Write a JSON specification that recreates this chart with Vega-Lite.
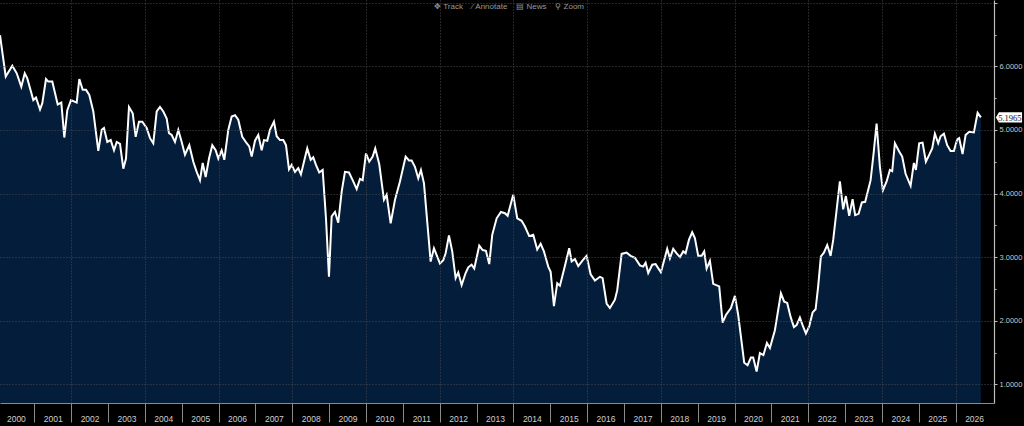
{
  "$schema": "https://vega.github.io/schema/vega-lite/v6.json",
  "description": "Monthly yield history 2000-2026, dark terminal style area chart.",
  "width": 994,
  "height": 403,
  "autosize": {"type": "none"},
  "padding": {"left": 0, "top": 0, "right": 30, "bottom": 23},
  "background": "#000000",
  "title": {
    "text": "✥\u00a0Track\u00a0\u00a0\u00a0\u00a0⁄\u00a0Annotate\u00a0\u00a0\u00a0\u00a0▤\u00a0News\u00a0\u00a0\u00a0\u00a0⚲\u00a0Zoom",
    "orient": "top",
    "anchor": "middle",
    "offset": -11,
    "font": "Liberation Sans",
    "fontSize": 8,
    "fontWeight": "normal",
    "color": "#9a9a9a",
    "dx": 12
  },
  "data": {
    "values": [
      {"t": 2000.069, "v": 6.49}, {"t": 2000.224, "v": 5.84}, {"t": 2000.403, "v": 6.01}, {"t": 2000.523, "v": 5.89},
      {"t": 2000.647, "v": 5.68}, {"t": 2000.740, "v": 5.89}, {"t": 2000.810, "v": 5.81}, {"t": 2000.973, "v": 5.47},
      {"t": 2001.046, "v": 5.51}, {"t": 2001.155, "v": 5.32}, {"t": 2001.217, "v": 5.42}, {"t": 2001.317, "v": 5.80},
      {"t": 2001.380, "v": 5.76}, {"t": 2001.488, "v": 5.76}, {"t": 2001.635, "v": 5.40}, {"t": 2001.733, "v": 5.43},
      {"t": 2001.814, "v": 4.88}, {"t": 2001.895, "v": 5.31}, {"t": 2001.996, "v": 5.47}, {"t": 2002.150, "v": 5.43},
      {"t": 2002.221, "v": 5.80}, {"t": 2002.313, "v": 5.63}, {"t": 2002.403, "v": 5.63}, {"t": 2002.492, "v": 5.55},
      {"t": 2002.601, "v": 5.29}, {"t": 2002.736, "v": 4.67}, {"t": 2002.829, "v": 5.00}, {"t": 2002.891, "v": 5.03},
      {"t": 2002.980, "v": 4.81}, {"t": 2003.073, "v": 4.84}, {"t": 2003.162, "v": 4.68}, {"t": 2003.236, "v": 4.81},
      {"t": 2003.325, "v": 4.78}, {"t": 2003.415, "v": 4.39}, {"t": 2003.488, "v": 4.55}, {"t": 2003.569, "v": 5.36},
      {"t": 2003.670, "v": 5.26}, {"t": 2003.751, "v": 4.89}, {"t": 2003.840, "v": 5.13}, {"t": 2003.930, "v": 5.13},
      {"t": 2004.049, "v": 5.03}, {"t": 2004.139, "v": 4.87}, {"t": 2004.228, "v": 4.79}, {"t": 2004.321, "v": 5.29},
      {"t": 2004.410, "v": 5.36}, {"t": 2004.500, "v": 5.29}, {"t": 2004.592, "v": 5.18}, {"t": 2004.654, "v": 4.95},
      {"t": 2004.728, "v": 4.92}, {"t": 2004.817, "v": 4.81}, {"t": 2004.907, "v": 5.00}, {"t": 2004.999, "v": 4.81},
      {"t": 2005.088, "v": 4.61}, {"t": 2005.205, "v": 4.76}, {"t": 2005.314, "v": 4.50}, {"t": 2005.406, "v": 4.34},
      {"t": 2005.495, "v": 4.21}, {"t": 2005.569, "v": 4.48}, {"t": 2005.650, "v": 4.26}, {"t": 2005.740, "v": 4.55},
      {"t": 2005.829, "v": 4.76}, {"t": 2005.921, "v": 4.68}, {"t": 2005.992, "v": 4.55}, {"t": 2006.084, "v": 4.68},
      {"t": 2006.155, "v": 4.53}, {"t": 2006.263, "v": 5.00}, {"t": 2006.355, "v": 5.21}, {"t": 2006.445, "v": 5.23},
      {"t": 2006.534, "v": 5.16}, {"t": 2006.643, "v": 4.89}, {"t": 2006.762, "v": 4.79}, {"t": 2006.833, "v": 4.74},
      {"t": 2006.898, "v": 4.58}, {"t": 2006.988, "v": 4.83}, {"t": 2007.077, "v": 4.92}, {"t": 2007.169, "v": 4.68},
      {"t": 2007.232, "v": 4.84}, {"t": 2007.321, "v": 4.83}, {"t": 2007.394, "v": 5.00}, {"t": 2007.503, "v": 5.13},
      {"t": 2007.576, "v": 4.90}, {"t": 2007.666, "v": 4.84}, {"t": 2007.755, "v": 4.84}, {"t": 2007.829, "v": 4.76},
      {"t": 2007.910, "v": 4.38}, {"t": 2007.983, "v": 4.45}, {"t": 2008.073, "v": 4.34}, {"t": 2008.162, "v": 4.40},
      {"t": 2008.235, "v": 4.30}, {"t": 2008.317, "v": 4.50}, {"t": 2008.406, "v": 4.71}, {"t": 2008.499, "v": 4.53},
      {"t": 2008.569, "v": 4.57}, {"t": 2008.642, "v": 4.45}, {"t": 2008.732, "v": 4.33}, {"t": 2008.824, "v": 4.37},
      {"t": 2008.914, "v": 3.61}, {"t": 2008.995, "v": 2.69}, {"t": 2009.068, "v": 3.64}, {"t": 2009.158, "v": 3.71},
      {"t": 2009.247, "v": 3.54}, {"t": 2009.340, "v": 4.03}, {"t": 2009.429, "v": 4.34}, {"t": 2009.538, "v": 4.33},
      {"t": 2009.638, "v": 4.21}, {"t": 2009.747, "v": 4.07}, {"t": 2009.836, "v": 4.23}, {"t": 2009.909, "v": 4.21},
      {"t": 2009.999, "v": 4.63}, {"t": 2010.088, "v": 4.50}, {"t": 2010.181, "v": 4.58}, {"t": 2010.251, "v": 4.71},
      {"t": 2010.360, "v": 4.46}, {"t": 2010.487, "v": 3.90}, {"t": 2010.560, "v": 3.98}, {"t": 2010.669, "v": 3.53},
      {"t": 2010.786, "v": 3.90}, {"t": 2010.921, "v": 4.19}, {"t": 2011.076, "v": 4.58}, {"t": 2011.166, "v": 4.52},
      {"t": 2011.239, "v": 4.52}, {"t": 2011.328, "v": 4.42}, {"t": 2011.418, "v": 4.24}, {"t": 2011.491, "v": 4.37},
      {"t": 2011.573, "v": 4.16}, {"t": 2011.673, "v": 3.48}, {"t": 2011.754, "v": 2.93}, {"t": 2011.844, "v": 3.14},
      {"t": 2011.917, "v": 3.03}, {"t": 2012.006, "v": 2.90}, {"t": 2012.096, "v": 2.95}, {"t": 2012.161, "v": 3.06},
      {"t": 2012.251, "v": 3.34}, {"t": 2012.340, "v": 3.09}, {"t": 2012.432, "v": 2.67}, {"t": 2012.503, "v": 2.76},
      {"t": 2012.595, "v": 2.56}, {"t": 2012.703, "v": 2.75}, {"t": 2012.774, "v": 2.84}, {"t": 2012.866, "v": 2.88},
      {"t": 2012.937, "v": 2.82}, {"t": 2013.073, "v": 3.18}, {"t": 2013.165, "v": 3.11}, {"t": 2013.254, "v": 3.10},
      {"t": 2013.344, "v": 2.89}, {"t": 2013.425, "v": 3.35}, {"t": 2013.545, "v": 3.61}, {"t": 2013.661, "v": 3.71},
      {"t": 2013.770, "v": 3.69}, {"t": 2013.843, "v": 3.65}, {"t": 2013.995, "v": 3.98}, {"t": 2014.104, "v": 3.61},
      {"t": 2014.223, "v": 3.57}, {"t": 2014.312, "v": 3.48}, {"t": 2014.429, "v": 3.33}, {"t": 2014.538, "v": 3.35},
      {"t": 2014.646, "v": 3.12}, {"t": 2014.738, "v": 3.21}, {"t": 2014.828, "v": 3.09}, {"t": 2014.945, "v": 2.85},
      {"t": 2015.010, "v": 2.77}, {"t": 2015.099, "v": 2.23}, {"t": 2015.189, "v": 2.59}, {"t": 2015.262, "v": 2.55},
      {"t": 2015.371, "v": 2.80}, {"t": 2015.514, "v": 3.14}, {"t": 2015.580, "v": 2.93}, {"t": 2015.669, "v": 2.97},
      {"t": 2015.759, "v": 2.86}, {"t": 2015.878, "v": 2.95}, {"t": 2015.986, "v": 3.02}, {"t": 2016.095, "v": 2.73},
      {"t": 2016.212, "v": 2.63}, {"t": 2016.347, "v": 2.69}, {"t": 2016.420, "v": 2.67}, {"t": 2016.529, "v": 2.27},
      {"t": 2016.618, "v": 2.20}, {"t": 2016.754, "v": 2.33}, {"t": 2016.817, "v": 2.48}, {"t": 2016.936, "v": 3.05},
      {"t": 2017.072, "v": 3.07}, {"t": 2017.180, "v": 3.02}, {"t": 2017.297, "v": 2.99}, {"t": 2017.433, "v": 2.87},
      {"t": 2017.522, "v": 2.85}, {"t": 2017.587, "v": 2.91}, {"t": 2017.658, "v": 2.75}, {"t": 2017.766, "v": 2.88},
      {"t": 2017.858, "v": 2.89}, {"t": 2018.002, "v": 2.76}, {"t": 2018.173, "v": 3.13}, {"t": 2018.246, "v": 2.98},
      {"t": 2018.336, "v": 3.13}, {"t": 2018.428, "v": 3.06}, {"t": 2018.518, "v": 3.00}, {"t": 2018.607, "v": 3.09},
      {"t": 2018.672, "v": 3.06}, {"t": 2018.762, "v": 3.27}, {"t": 2018.851, "v": 3.39}, {"t": 2018.924, "v": 3.30},
      {"t": 2019.014, "v": 3.02}, {"t": 2019.106, "v": 3.02}, {"t": 2019.177, "v": 3.09}, {"t": 2019.242, "v": 2.82},
      {"t": 2019.332, "v": 2.94}, {"t": 2019.421, "v": 2.58}, {"t": 2019.584, "v": 2.54}, {"t": 2019.676, "v": 1.97},
      {"t": 2019.766, "v": 2.09}, {"t": 2019.901, "v": 2.20}, {"t": 2020.010, "v": 2.39}, {"t": 2020.099, "v": 2.09},
      {"t": 2020.262, "v": 1.34}, {"t": 2020.354, "v": 1.30}, {"t": 2020.444, "v": 1.42}, {"t": 2020.506, "v": 1.42},
      {"t": 2020.599, "v": 1.20}, {"t": 2020.688, "v": 1.49}, {"t": 2020.783, "v": 1.46}, {"t": 2020.879, "v": 1.65},
      {"t": 2020.960, "v": 1.57}, {"t": 2021.022, "v": 1.70}, {"t": 2021.095, "v": 1.85}, {"t": 2021.258, "v": 2.43},
      {"t": 2021.347, "v": 2.30}, {"t": 2021.429, "v": 2.28}, {"t": 2021.521, "v": 2.06}, {"t": 2021.611, "v": 1.90},
      {"t": 2021.684, "v": 1.93}, {"t": 2021.773, "v": 2.05}, {"t": 2021.846, "v": 1.93}, {"t": 2021.936, "v": 1.80},
      {"t": 2022.025, "v": 1.91}, {"t": 2022.118, "v": 2.13}, {"t": 2022.199, "v": 2.18}, {"t": 2022.269, "v": 2.54},
      {"t": 2022.343, "v": 3.01}, {"t": 2022.424, "v": 3.07}, {"t": 2022.514, "v": 3.19}, {"t": 2022.606, "v": 3.02},
      {"t": 2022.677, "v": 3.27}, {"t": 2022.769, "v": 3.74}, {"t": 2022.858, "v": 4.19}, {"t": 2022.948, "v": 3.75},
      {"t": 2023.021, "v": 3.96}, {"t": 2023.111, "v": 3.65}, {"t": 2023.203, "v": 3.91}, {"t": 2023.273, "v": 3.66},
      {"t": 2023.366, "v": 3.68}, {"t": 2023.455, "v": 3.86}, {"t": 2023.545, "v": 3.87}, {"t": 2023.692, "v": 4.21},
      {"t": 2023.773, "v": 4.63}, {"t": 2023.854, "v": 5.10}, {"t": 2023.944, "v": 4.42}, {"t": 2024.025, "v": 4.05},
      {"t": 2024.126, "v": 4.19}, {"t": 2024.215, "v": 4.37}, {"t": 2024.278, "v": 4.35}, {"t": 2024.351, "v": 4.79},
      {"t": 2024.467, "v": 4.66}, {"t": 2024.549, "v": 4.58}, {"t": 2024.641, "v": 4.31}, {"t": 2024.777, "v": 4.12},
      {"t": 2024.866, "v": 4.48}, {"t": 2024.921, "v": 4.37}, {"t": 2025.010, "v": 4.79}, {"t": 2025.102, "v": 4.80},
      {"t": 2025.192, "v": 4.50}, {"t": 2025.300, "v": 4.63}, {"t": 2025.363, "v": 4.71}, {"t": 2025.436, "v": 4.94},
      {"t": 2025.526, "v": 4.79}, {"t": 2025.591, "v": 4.90}, {"t": 2025.680, "v": 4.94}, {"t": 2025.770, "v": 4.76},
      {"t": 2025.862, "v": 4.67}, {"t": 2025.951, "v": 4.67}, {"t": 2026.041, "v": 4.85}, {"t": 2026.095, "v": 4.87},
      {"t": 2026.187, "v": 4.62}, {"t": 2026.269, "v": 4.92}, {"t": 2026.367, "v": 4.97}, {"t": 2026.494, "v": 4.96},
      {"t": 2026.595, "v": 5.27}, {"t": 2026.684, "v": 5.1965}
    ]
  },
  "resolve": {"axis": {"x": "independent", "y": "independent"}},
  "layer": [
    {
      "mark": {"type": "area", "color": "#031d3b", "opacity": 1, "clip": true},
      "encoding": {
        "x": {
          "field": "t", "type": "quantitative",
          "scale": {"domain": [2000.069, 2027.04], "nice": false, "zero": false},
          "axis": {
            "orient": "bottom", "title": null, "zindex": 1,
            "values": [2001, 2002, 2003, 2004, 2005, 2006, 2007, 2008, 2009, 2010, 2011, 2012, 2013, 2014, 2015, 2016, 2017, 2018, 2019, 2020, 2021, 2022, 2023, 2024, 2025, 2026],
            "labels": false, "ticks": true, "tickSize": 19, "tickColor": "#8a8a8a", "tickWidth": 1,
            "domain": true, "domainColor": "#8a8a8a", "domainWidth": 1,
            "grid": true, "gridColor": "#4a4a4a", "gridDash": [1, 2], "gridWidth": 1,
            "gridOpacity": {"condition": {"test": "datum.value % 2 == 0", "value": 1}, "value": 0}
          }
        },
        "y": {
          "field": "v", "type": "quantitative",
          "scale": {"domain": [0.706, 7.0425], "nice": false, "zero": false},
          "axis": {
            "orient": "right", "title": null, "zindex": 1,
            "values": [1, 2, 3, 4, 5, 6, 7], "format": ".4f",
            "labelExpr": "datum.value > 6.5 ? '' : datum.label",
            "labelFont": "Liberation Sans", "labelFontSize": 7.5, "labelColor": "#c8c8c8",
            "labelPadding": 2, "labelAlign": "left",
            "tickSize": 3, "tickColor": "#bdbdbd",
            "domain": true, "domainColor": "#bdbdbd", "domainWidth": 1.2,
            "grid": true, "gridColor": "#4a4a4a", "gridDash": [1, 2], "gridWidth": 1
          }
        }
      }
    },
    {
      "mark": {"type": "line", "color": "#ffffff", "strokeWidth": 2, "clip": true},
      "encoding": {
        "x": {
          "field": "t", "type": "quantitative",
          "axis": {
            "orient": "bottom", "title": null,
            "values": [2000.5, 2001.5, 2002.5, 2003.5, 2004.5, 2005.5, 2006.5, 2007.5, 2008.5, 2009.5, 2010.5, 2011.5, 2012.5, 2013.5, 2014.5, 2015.5, 2016.5, 2017.5, 2018.5, 2019.5, 2020.5, 2021.5, 2022.5, 2023.5, 2024.5, 2025.5, 2026.5],
            "labelExpr": "floor(datum.value)",
            "ticks": false, "tickSize": 0, "domain": false, "grid": false,
            "labelFont": "Liberation Sans", "labelFontSize": 8.5, "labelColor": "#cfcfcf",
            "labelBaseline": "middle", "labelPadding": 15, "labelAlign": "center", "labelFlush": false,
            "labelOverlap": false
          }
        },
        "y": {
          "field": "v", "type": "quantitative",
          "axis": {
            "orient": "right", "title": null,
            "values": [1.5, 2.5, 3.5, 4.5, 5.5, 6.5],
            "labels": false, "tickSize": 2, "tickColor": "#bdbdbd",
            "domain": false, "grid": false
          }
        }
      }
    },
    {
      "transform": [
        {"joinaggregate": [{"op": "max", "field": "t", "as": "tmax"}]},
        {"filter": "datum.t == datum.tmax"}
      ],
      "mark": {
        "type": "point",
        "shape": "M 0.357 0 L 0.43 -0.12 L 0.98 -0.12 L 0.98 0.12 L 0.43 0.12 Z",
        "size": 7056, "filled": true, "fill": "#ffffff", "opacity": 1, "strokeWidth": 0
      },
      "encoding": {
        "x": {"field": "t", "type": "quantitative", "axis": null},
        "y": {"field": "v", "type": "quantitative", "axis": null}
      }
    },
    {
      "transform": [
        {"joinaggregate": [{"op": "max", "field": "t", "as": "tmax"}]},
        {"filter": "datum.t == datum.tmax"}
      ],
      "mark": {
        "type": "text", "dx": 29, "dy": 0.5, "align": "center", "baseline": "middle",
        "font": "Liberation Serif", "fontSize": 8.5, "color": "#111111"
      },
      "encoding": {
        "x": {"field": "t", "type": "quantitative", "axis": null},
        "y": {"field": "v", "type": "quantitative", "axis": null},
        "text": {"field": "v", "type": "quantitative", "format": ".4f"}
      }
    }
  ],
  "config": {
    "view": {"stroke": null, "fill": "#000000"}
  }
}
